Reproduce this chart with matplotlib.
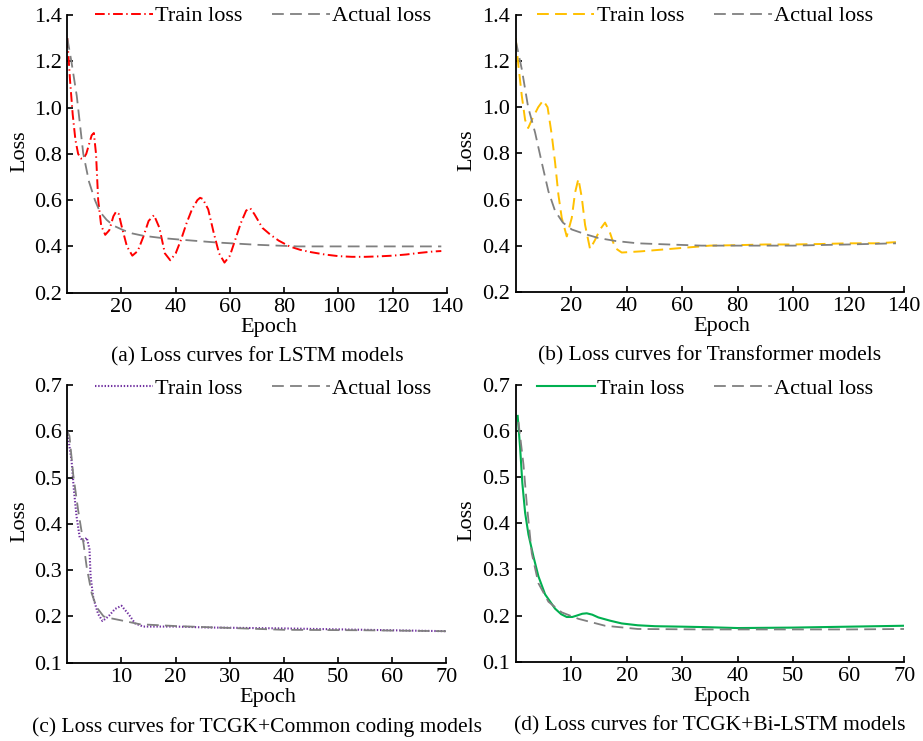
import matplotlib
matplotlib.use("Agg")
import matplotlib.pyplot as plt

plt.rcParams['font.family'] = ['Liberation Serif', 'DejaVu Serif']
plt.rcParams['lines.scale_dashes'] = False

# (a) LSTM
lstm_epoch = [0, 1, 2, 3, 4, 5, 6, 7, 8, 9, 9.8, 10.6, 11.4, 12.5, 14, 15.5, 17, 18, 19, 20,
              22, 24, 26, 28, 30, 32, 34, 36, 38, 40, 42, 44, 46, 48, 49, 50, 52, 54, 56, 58,
              60, 62, 64, 66, 67.5, 69, 72, 75, 78, 82, 86, 90, 95, 100, 105, 110, 115, 120,
              125, 130, 135, 138]
lstm_train = [1.30, 1.12, 0.97, 0.86, 0.80, 0.78, 0.78, 0.80, 0.84, 0.88, 0.89, 0.80, 0.60,
              0.49, 0.45, 0.47, 0.53, 0.55, 0.54, 0.49, 0.40, 0.36, 0.38, 0.44, 0.51, 0.535,
              0.48, 0.37, 0.34, 0.37, 0.43, 0.50, 0.56, 0.60, 0.61, 0.605, 0.56, 0.46, 0.37,
              0.33, 0.36, 0.43, 0.50, 0.555, 0.565, 0.54, 0.48, 0.45, 0.425, 0.40, 0.385,
              0.375, 0.365, 0.358, 0.355, 0.355, 0.357, 0.36, 0.365, 0.372, 0.378, 0.38]
lstm_act_epoch = [0, 1.5, 3.5, 5.9, 8, 10.2, 12, 14.5, 17, 20.7, 24, 28, 35, 43, 55, 70, 85,
                  100, 120, 138]
lstm_actual = [1.30, 1.20, 1.05, 0.80, 0.68, 0.60, 0.55, 0.515, 0.49, 0.47, 0.456, 0.446,
               0.436, 0.428, 0.417, 0.407, 0.40, 0.40, 0.40, 0.40]

# (b) Transformer
trf_epoch = [0, 0.9, 2.2, 3.4, 4.5, 5.8, 8.1, 9.9, 11.5, 13, 14.2, 15.4, 16.6, 18.4, 20.2,
             21.4, 22.6, 23.8, 25, 26.8, 28.6, 30.4, 32.2, 34, 35.8, 38.2, 45, 50, 60, 70,
             80, 90, 100, 110, 120, 130, 137]
trf_train = [1.30, 1.19, 1.05, 0.945, 0.91, 0.945, 1.00, 1.03, 1.00, 0.88, 0.76, 0.62, 0.52,
             0.44, 0.52, 0.63, 0.69, 0.61, 0.49, 0.385, 0.425, 0.47, 0.50, 0.455, 0.39, 0.37,
             0.375, 0.38, 0.39, 0.40, 0.402, 0.405, 0.405, 0.407, 0.41, 0.41, 0.415]
trf_act_epoch = [0, 2.2, 4.5, 7, 9.4, 11.8, 14.2, 17, 20.2, 25, 29.8, 36, 44, 55, 67, 80,
                 100, 120, 137]
trf_actual = [1.29, 1.165, 1.0, 0.89, 0.76, 0.635, 0.55, 0.50, 0.47, 0.45, 0.433, 0.42,
              0.41, 0.405, 0.40, 0.40, 0.40, 0.405, 0.41]

# (c) TCGK + Common coding
cc_epoch = [0, 0.8, 1.2, 1.7, 2.3, 3.0, 3.6, 4.1, 4.3, 4.8, 5.7, 6.5, 7.6, 8.8, 10, 11.3,
            12.5, 14, 20, 26, 40, 55, 70]
cc_train = [0.60, 0.535, 0.476, 0.417, 0.37, 0.363, 0.37, 0.345, 0.287, 0.24, 0.205, 0.19,
            0.20, 0.216, 0.223, 0.205, 0.185, 0.178, 0.178, 0.176, 0.174, 0.171, 0.168]
cc_act_epoch = [0, 0.4, 1.1, 2, 3, 3.6, 4.5, 5.4, 6.7, 8, 9.7, 13.4, 20.2, 30, 40, 55, 70]
cc_actual = [0.60, 0.59, 0.506, 0.43, 0.357, 0.305, 0.25, 0.22, 0.20, 0.196, 0.192, 0.183,
             0.179, 0.175, 0.171, 0.17, 0.168]

# (d) TCGK + Bi-LSTM
bi_epoch = [0.36, 0.8, 1.2, 1.7, 2.3, 3.2, 4.1, 5.3, 7.1, 8.2, 9.2, 10.2, 11, 12, 12.8, 13.8,
            14.9, 17, 19.1, 22, 25.1, 30, 34.1, 40, 50, 60, 70]
bi_train = [0.633, 0.564, 0.487, 0.423, 0.376, 0.328, 0.285, 0.246, 0.215, 0.203, 0.197,
            0.197, 0.20, 0.204, 0.205, 0.202, 0.196, 0.189, 0.183, 0.179, 0.177, 0.176,
            0.175, 0.173, 0.174, 0.176, 0.178]
bi_act_epoch = [0.5, 1.4, 2, 2.9, 4.1, 5.9, 8.3, 11.3, 16.1, 22, 33.5, 45, 60, 70]
bi_actual = [0.62, 0.528, 0.442, 0.335, 0.27, 0.23, 0.207, 0.193, 0.178, 0.171, 0.17, 0.17,
             0.17, 0.171]

GRAY = '#808080'
FS = 16

fig = plt.figure(figsize=(9.23, 7.41), dpi=100)


def panel(rect, ep, tr, aep, act, color, ls, lw, xlim, xt, ylim, yt, caption, legx, legy):
    ax = fig.add_axes(rect)
    ax.plot(ep, tr, color=color, linestyle=ls, lw=lw, label='Train loss')
    ax.plot(aep, act, color=GRAY, linestyle=(0, (8.5, 4.5)), lw=1.3, label='Actual loss')
    ax.set_xlim(*xlim)
    ax.set_ylim(*ylim)
    ax.set_xticks(xt)
    ax.set_yticks(yt)
    ax.set_yticklabels(['%.1f' % v for v in yt])
    for s in ['top', 'right']:
        ax.spines[s].set_visible(False)
    for s in ['left', 'bottom']:
        ax.spines[s].set_linewidth(1.3)
    ax.tick_params(direction='in', length=4, width=1.2, labelsize=FS, pad=4)
    ax.set_xlabel('Epoch', fontsize=FS, va='center')
    ax.xaxis.set_label_coords(0.53, -0.127)
    ax.set_ylabel('Loss', fontsize=FS, va='center')
    ax.yaxis.set_label_coords(-0.125, 0.51)
    ax.legend(loc='center left', bbox_to_anchor=(legx, legy), ncol=2, frameon=False,
              fontsize=FS, handlelength=2.6, handletextpad=0.1, columnspacing=1.35,
              borderpad=0, borderaxespad=0)
    ax.text(0.5, -0.23, caption, transform=ax.transAxes, ha='center', va='center',
            fontsize=15.5)
    return ax


panel([0.0729, 0.605, 0.4111, 0.3748], lstm_epoch, lstm_train, lstm_act_epoch, lstm_actual,
      '#FF0000', (0, (7, 2.5, 1, 2.5)), 1.4, (0, 140), [20, 40, 60, 80, 100, 120, 140],
      (0.2, 1.4), [0.2, 0.4, 0.6, 0.8, 1.0, 1.2, 1.4], '(a) Loss curves for LSTM models',
      0.073, 0.996)
panel([0.5587, 0.6063, 0.4210, 0.3734], trf_epoch, trf_train, trf_act_epoch, trf_actual,
      '#FFC000', (0, (8.5, 4.5)), 1.4, (0, 140), [20, 40, 60, 80, 100, 120, 140],
      (0.2, 1.4), [0.2, 0.4, 0.6, 0.8, 1.0, 1.2, 1.4],
      '(b) Loss curves for Transformer models', 0.054, 0.996)
panel([0.0729, 0.1057, 0.4108, 0.3748], cc_epoch, cc_train, cc_act_epoch, cc_actual,
      '#7030A0', (0, (1, 1.3)), 1.5, (0, 70), [10, 20, 30, 40, 50, 60, 70],
      (0.1, 0.7), [0.1, 0.2, 0.3, 0.4, 0.5, 0.6, 0.7],
      '(c) Loss curves for TCGK+Common coding models', 0.073, 0.988)
panel([0.5587, 0.107, 0.4210, 0.3734], bi_epoch, bi_train, bi_act_epoch, bi_actual,
      '#00B050', '-', 1.5, (0, 70), [10, 20, 30, 40, 50, 60, 70],
      (0.1, 0.7), [0.1, 0.2, 0.3, 0.4, 0.5, 0.6, 0.7],
      '(d) Loss curves for TCGK+Bi-LSTM models', 0.055, 0.988)

fig.savefig('out.png', dpi=100)
